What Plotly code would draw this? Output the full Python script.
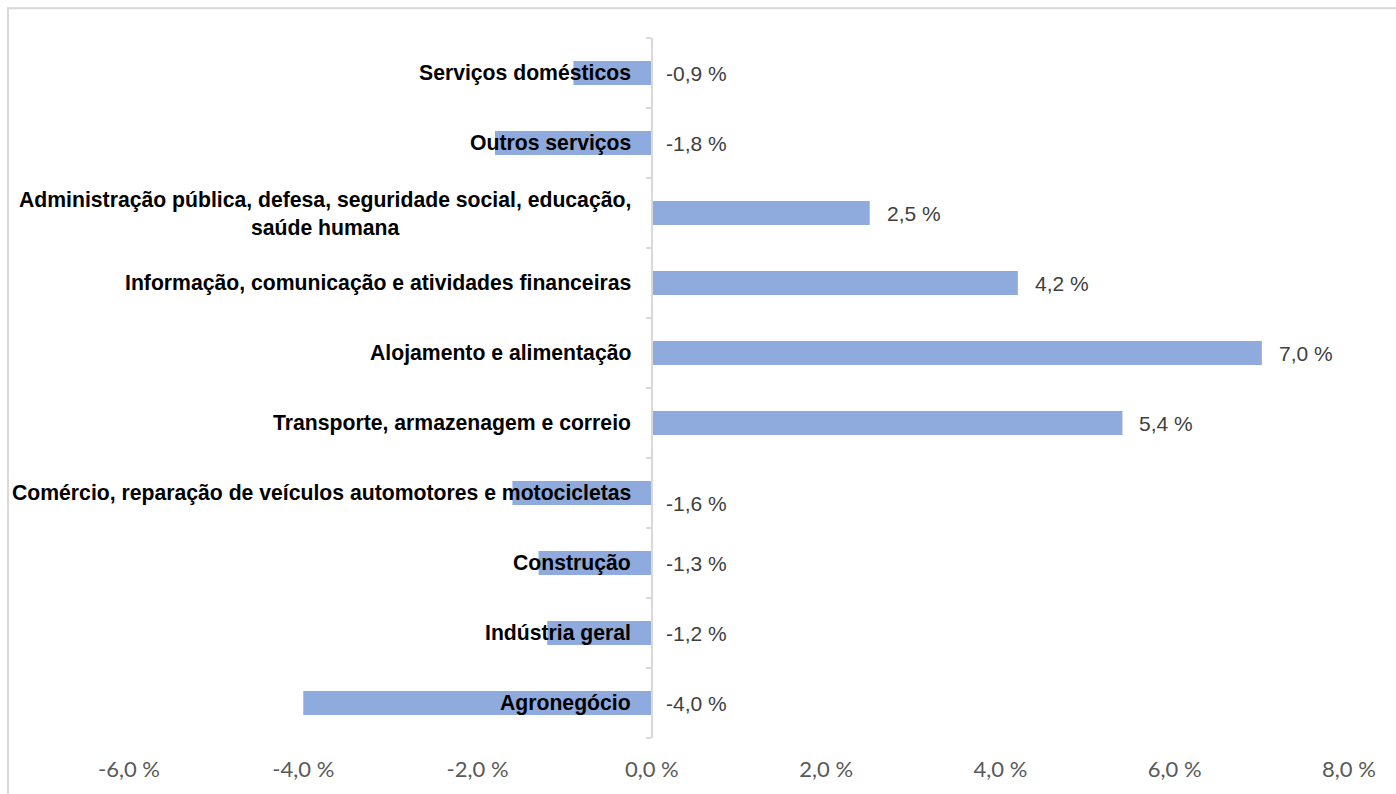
import plotly.graph_objects as go

# Sectors, bottom to top, and their variation (%)
categories = [
    "Agronegócio",
    "Indústria geral",
    "Construção",
    "Comércio, reparação de veículos automotores e motocicletas",
    "Transporte, armazenagem e correio",
    "Alojamento e alimentação",
    "Informação, comunicação e atividades financeiras",
    "Administração pública, defesa, seguridade social, educação,<br>saúde humana",
    "Outros serviços",
    "Serviços domésticos",
]
values = [-4.0, -1.2, -1.3, -1.6, 5.4, 7.0, 4.2, 2.5, -1.8, -0.9]

x_tick_vals = [-6, -4, -2, 0, 2, 4, 6, 8]
x_tick_text = ["-6,0 %", "-4,0 %", "-2,0 %", "0,0 %", "2,0 %", "4,0 %", "6,0 %", "8,0 %"]

X_MIN, X_MAX = -6, 8
BAR_COLOR = "#8faadc"
AXIS_GRAY = "#d9d9d9"

fig = go.Figure()
fig.add_trace(go.Bar(
    x=values,
    y=categories,
    orientation="h",
    marker=dict(color=BAR_COLOR, line=dict(width=0)),
    hoverinfo="x+y",
))

annotations = []
for cat, v in zip(categories, values):
    # category name, right-aligned just left of the zero axis
    annotations.append(dict(
        x=0, y=cat, xref="x", yref="y",
        text=f"<b>{cat}</b>", showarrow=False,
        xanchor="right", yanchor="middle", align="center",
        xshift=-19,
        font=dict(family="Liberation Sans, Arial", size=21.2, color="#000000"),
    ))
    # value label
    label = f"{v:.1f}".replace(".", ",") + " %"
    annotations.append(dict(
        x=max(v, 0), y=cat, xref="x", yref="y",
        text=label, showarrow=False,
        xanchor="left", yanchor="middle",
        xshift=15 if v > 0 else 12,
        yshift=-10 if cat.startswith("Comércio") else 0,
        font=dict(family="Liberation Sans, Arial", size=21, color="#404040"),
    ))

# light outer frame of the chart area
L, R, T, B = 129, 1349, 38, 742
W, H = R - L, B - T
frame = dict(
    type="rect", xref="paper", yref="paper",
    x0=(8 - L) / W, x1=(1420 - L) / W,
    y0=(B - 820) / H, y1=(B - 8) / H,
    line=dict(color=AXIS_GRAY, width=2), fillcolor="rgba(0,0,0,0)",
    layer="below",
)

fig.update_layout(
    width=1396, height=794,
    margin=dict(l=L, r=1396 - R, t=T, b=794 - B),
    paper_bgcolor="white", plot_bgcolor="white",
    bargap=0.66,
    showlegend=False,
    annotations=annotations,
    shapes=[frame],
    xaxis=dict(
        range=[X_MIN, X_MAX],
        tickvals=x_tick_vals, ticktext=x_tick_text,
        showgrid=False, zeroline=False, showline=False,
        ticks="", ticklabelstandoff=16,
        tickfont=dict(family="Lato, Open Sans", size=22, color="#595959"),
        fixedrange=True,
    ),
    yaxis=dict(
        type="category",
        categoryorder="array", categoryarray=categories,
        range=[-0.5, len(categories) - 0.5],
        anchor="free", position=(0 - X_MIN) / (X_MAX - X_MIN),
        showline=True, linecolor=AXIS_GRAY, linewidth=1.5,
        ticks="outside", tickson="boundaries", ticklen=5,
        tickcolor=AXIS_GRAY, tickwidth=1.5,
        showticklabels=False, showgrid=False, zeroline=False,
        fixedrange=True,
    ),
)

fig.write_html("out.html")
